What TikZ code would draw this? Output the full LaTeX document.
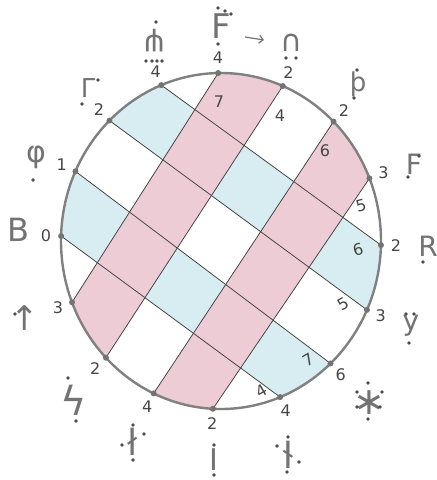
\documentclass[tikz,border=0pt]{standalone}
\usepackage{fontspec}
\setsansfont{DejaVu Sans}
\newfontfamily\runefont{DejaVu Sans}
\usetikzlibrary{arrows.meta,calc}

\definecolor{pinkband}{RGB}{238,204,214}
\definecolor{blueband}{RGB}{216,237,241}
\definecolor{pencil}{RGB}{70,70,70}

\begin{document}
\begin{tikzpicture}[x=1pt,y=-1pt,
  every node/.style={font=\sffamily},
  num/.style={font=\sffamily\fontsize{16}{16}\selectfont, text=pencil, inner sep=0pt},
  rune/.style={font=\runefont\fontsize{30}{30}\selectfont, text=black!55, inner sep=0pt},
  chord/.style={draw=pencil, line width=0.8pt},
  rim/.style={draw=black!50, line width=2.4pt},
  pt/.style={fill=black!55},
  rdot/.style={fill=black!70},
  arrow/.style={-{Straight Barb[length=4pt]}, black!55, line width=1.2pt},
]

\useasboundingbox (0,0) rectangle (437,480);
\fill[white] (0,0) rectangle (437,480);

% points on the rim with their numbers
\foreach \k/\a/\lab in {0/91/4, 1/67.3/2, 2/45.3/2, 3/21.9/3, 4/-1.4/2, 5/-24.2/3,
    6/-46.8/6, 7/-68.3/4, 8/-92.9/2, 9/-114.9/4, 10/-136/2, 11/-158.6/3,
    12/-181.7/0, 13/-204.5/1, 14/-225.8/2, 15/-248.1/4} {
  \coordinate (p\k) at ($(221,241)+({160*cos(\a)},{-168*sin(\a)})$);
  \node[num] (n\k) at ($(221,241)+({175*cos(\a)},{-183*sin(\a)})$) {\lab};
}

% coloured bands
\begin{scope}
  \clip (221,241) ellipse [x radius=160, y radius=168];
  \fill[blueband] ($(p15)!-0.3!(p4)$) -- ($(p4)!-0.3!(p15)$) -- ($(p5)!-0.3!(p14)$) -- ($(p14)!-0.3!(p5)$) -- cycle;
  \fill[blueband] ($(p13)!-0.3!(p6)$) -- ($(p6)!-0.3!(p13)$) -- ($(p7)!-0.3!(p12)$) -- ($(p12)!-0.3!(p7)$) -- cycle;
  \fill[pinkband] ($(p0)!-0.3!(p11)$) -- ($(p11)!-0.3!(p0)$) -- ($(p10)!-0.3!(p1)$) -- ($(p1)!-0.3!(p10)$) -- cycle;
  \fill[pinkband] ($(p2)!-0.3!(p9)$) -- ($(p9)!-0.3!(p2)$) -- ($(p8)!-0.3!(p3)$) -- ($(p3)!-0.3!(p8)$) -- cycle;
\end{scope}

\draw[chord] (p0) -- (p11);
\draw[chord] (p1) -- (p10);
\draw[chord] (p2) -- (p9);
\draw[chord] (p3) -- (p8);
\draw[chord] (p15) -- (p4);
\draw[chord] (p14) -- (p5);
\draw[chord] (p13) -- (p6);
\draw[chord] (p12) -- (p7);

\draw[rim] (221,241) ellipse [x radius=160, y radius=168];
\foreach \k in {0,...,15} \fill[pt] (p\k) circle (3);

% numbers inside the bands
\node[num] (m1) at (219,102) {7};
\node[num] (m2) at (280,116) {4};
\node[num] (m3) at (325,151) {6};
\node[num, rotate=15] (m4) at (361,206) {5};
\node[num, rotate=15] (m5) at (358,250) {6};
\node[num, rotate=30] (m6) at (343,304) {5};
\node[num, rotate=30] (m7) at (308,360) {7};
\node[num, rotate=30] (m8) at (261,391) {4};

% runes
\node[rune, font=\runefont\fontsize{34}{34}\selectfont] (r0) at (221,26) {F};
\node[rune] (r1) at (291,43) {∩};
\node[rune, font=\runefont\fontsize{26}{26}\selectfont] (r2) at (358,84) {þ};
\node[rune, font=\runefont\fontsize{28}{28}\selectfont] (r3) at (414,164) {F};
\node[rune, font=\runefont\fontsize{28}{28}\selectfont] (r4) at (428,246) {R};
\node[rune, font=\runefont\fontsize{28}{28}\selectfont] (r5) at (411,326) {y};
\node[rune, font=\runefont\fontsize{38}{38}\selectfont] (r6) at (369,403) {∗};
\node[rune, xscale=-1, transform shape, font=\runefont\fontsize{36}{36}\selectfont] (r7) at (288,455) {ł};
\node[rune] (r8) at (214,460) {I};
\node[rune, font=\runefont\fontsize{36}{36}\selectfont] (r9) at (133,442) {ł};
\node[rune, font=\runefont\fontsize{40}{40}\selectfont] (r10) at (74,400) {ϟ};
\node[rune, font=\runefont\fontsize{34}{34}\selectfont] (r11) at (25,318) {↑};
\node[rune, font=\runefont\fontsize{32}{32}\selectfont] (r12) at (18,230) {B};
\node[rune] (r13) at (36,157) {φ};
\node[rune, font=\runefont\fontsize{26}{26}\selectfont] (r14) at (88,88) {Γ};
\node[rune, rotate=180] (r15) at (155,41) {ψ};

% dots of the runes
\foreach \p in {(218,8),(225,11),(231,14),(218,44),
    (286,58),(296,58),
    (357,70),(354,98),
    (419,156),(408,177),
    (423,262),
    (406,314),(414,314),(409,343),
    (368,383),(357,392),(382,392),(357,407),(380,407),(368,419),
    (288,437),(277,446),(299,462),(287,472),
    (214,445),(214,475),
    (133,425),(122,445),(144,434),(133,460),
    (68,378),(76,421),
    (15,314),
    (33,180),
    (98,80),(82,104),
    (156,22),(146,61),(152,61),(157,61),(162,61)}
  \fill[rdot] \p circle (1.8);

\coordinate (a0) at (245,37);
\coordinate (a1) at (264,40);
\draw[arrow] (a0) -- (a1);

\end{tikzpicture}
\end{document}
